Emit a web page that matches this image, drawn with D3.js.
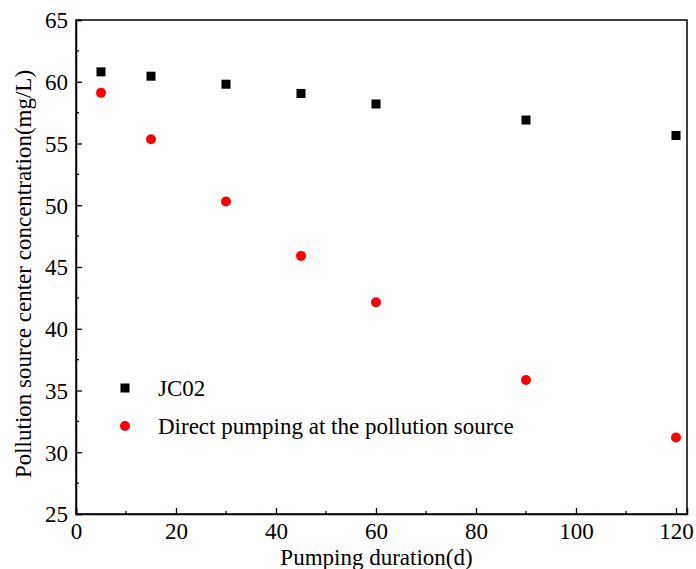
<!DOCTYPE html>
<html>
<head>
<meta charset="utf-8">
<script src="https://cdn.jsdelivr.net/npm/d3@7"></script>
<style>
  body { margin: 0; background: #fff; }
  text { font-family: "Liberation Serif", "Times New Roman", serif; fill: #000; }
</style>
</head>
<body>
<script>
// pumping durations (d)
var days = [5, 15, 30, 45, 60, 90, 120];
var jc02 = [60.8, 60.45, 59.8, 59.05, 58.2, 56.9, 55.65];
var direct = [59.1, 55.35, 50.3, 45.9, 42.15, 35.85, 31.2];
var xTicks = [0, 20, 40, 60, 80, 100, 120];
var yTicks = [25, 30, 35, 40, 45, 50, 55, 60, 65];
var seriesNames = ["JC02", "Direct pumping at the pollution source"];

var width = 696, height = 569;
var margin = {top: 20, right: 9, bottom: 55, left: 76};

var svg = d3.select("body").append("svg")
    .attr("width", width)
    .attr("height", height);

var x = d3.scaleLinear().domain([0, 122.2]).range([margin.left, width - margin.right]);
var y = d3.scaleLinear().domain([25, 65]).range([height - margin.bottom, margin.top]);

var g = svg.append("g");

// bottom axis, ticks pointing in
var xAxis = g.append("g")
    .attr("transform", "translate(0," + y(25) + ")")
    .call(d3.axisBottom(x).tickValues(xTicks).tickSize(-6).tickPadding(9).tickFormat(d3.format("d")));
xAxis.selectAll("text").style("font-size", "23px");

// minor x ticks
g.selectAll(".xminor")
    .data(d3.range(10, 121, 20))
    .enter().append("line")
    .attr("x1", function(d){ return x(d); })
    .attr("x2", function(d){ return x(d); })
    .attr("y1", y(25))
    .attr("y2", y(25) - 3)
    .attr("stroke", "#000")
    .attr("stroke-width", 1.3);

var yAxis = g.append("g")
    .attr("transform", "translate(" + x(0) + ",0)")
    .call(d3.axisLeft(y).tickValues(yTicks).tickSize(-6).tickPadding(8).tickFormat(d3.format("d")));
yAxis.selectAll("text").style("font-size", "23px").attr("dy", "0.34em");

g.selectAll(".yminor")
    .data(d3.range(27.5, 65, 5))
    .enter().append("line")
    .attr("x1", x(0))
    .attr("x2", x(0) + 3)
    .attr("y1", function(d){ return y(d); })
    .attr("y2", function(d){ return y(d); })
    .attr("stroke", "#000")
    .attr("stroke-width", 1.3);

g.selectAll(".domain").attr("stroke-width", 1.5);
g.selectAll(".tick line").attr("stroke-width", 1.3);

// frame top/right
g.append("rect")
    .attr("x", x(0))
    .attr("y", y(65))
    .attr("width", x(122.2) - x(0))
    .attr("height", y(25) - y(65))
    .attr("fill", "none")
    .attr("stroke", "#000")
    .attr("stroke-width", 1.5);

// points
g.selectAll(".sq")
    .data(days)
    .enter().append("rect")
    .attr("x", function(d){ return x(d) - 4.5; })
    .attr("y", function(d, i){ return y(jc02[i]) - 4.5; })
    .attr("width", 9)
    .attr("height", 9)
    .attr("fill", "#000");

g.selectAll(".dot")
    .data(days)
    .enter().append("circle")
    .attr("cx", function(d){ return x(d); })
    .attr("cy", function(d, i){ return y(direct[i]); })
    .attr("r", 5)
    .attr("fill", "#ff0000");

// legend
var leg = g.append("g").attr("transform", "translate(125,388)");
leg.append("rect").attr("x", -4.5).attr("y", -4.5).attr("width", 9).attr("height", 9).attr("fill", "#000");
leg.append("text").attr("x", 33).attr("y", 8).style("font-size", "23px").text(seriesNames[0]);
leg.append("circle").attr("cx", 0).attr("cy", 38).attr("r", 5).attr("fill", "#ff0000");
leg.append("text").attr("x", 33).attr("y", 46).style("font-size", "23px").text(seriesNames[1]);

// axis titles
svg.append("text")
    .attr("x", (x(0) + x(122.2)) / 2 - 5)
    .attr("y", 565)
    .attr("text-anchor", "middle")
    .style("font-size", "23px")
    .text("Pumping duration(d)");

svg.append("text")
    .attr("transform", "translate(31,274) rotate(-90)")
    .attr("text-anchor", "middle")
    .style("font-size", "23px")
    .text("Pollution source center concentration(mg/L)");
</script>
</body>
</html>
